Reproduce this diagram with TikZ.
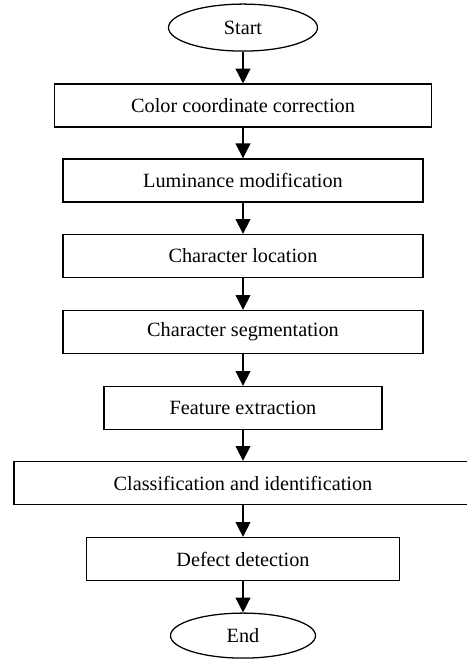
\documentclass[tikz,border=0pt]{standalone}
\usepackage{fontspec}
\setmainfont{Liberation Serif}
\usetikzlibrary{arrows.meta,shapes.geometric}

\begin{document}
\begin{tikzpicture}[
  font=\fontsize{14.4}{17}\selectfont,
  stepbox/.style={draw,line width=0.9pt,rectangle,minimum height=1.075cm,inner sep=0pt},
  term/.style={draw,line width=0.9pt,ellipse,inner sep=0pt},
  arr/.style={-{Triangle[length=3.7mm,width=3.7mm]},line width=0.9pt}
]
  \useasboundingbox (-6.075,0) rectangle (5.6,-16.475);
  \node[term,minimum width=3.725cm,minimum height=1.175cm] (start) at (0,-0.69) {Start};
  \node[stepbox,minimum width=9.425cm] (color) at (0,-2.64) {Color coordinate correction};
  \node[stepbox,minimum width=9cm] (lum) at (0,-4.51) {Luminance modification};
  \node[stepbox,minimum width=9cm] (loc) at (0,-6.40) {Character location};
  \node[stepbox,minimum width=9cm] (seg) at (0,-8.30) {Character segmentation};
  \node[stepbox,minimum width=6.95cm] (feat) at (0,-10.20) {Feature extraction};
  \node[stepbox,minimum width=11.45cm] (cls) at (0,-12.075) {Classification and identification};
  \node[stepbox,minimum width=7.825cm] (defect) at (0,-13.975) {Defect detection};
  \node[term,minimum width=3.625cm,minimum height=1.125cm] (fin) at (0,-15.89) {End};
  \draw[arr] (start) -- (color);
  \draw[arr] (color) -- (lum);
  \draw[arr] (lum) -- (loc);
  \draw[arr] (loc) -- (seg);
  \draw[arr] (seg) -- (feat);
  \draw[arr] (feat) -- (cls);
  \draw[arr] (cls) -- (defect);
  \draw[arr] (defect) -- (fin);
\end{tikzpicture}
\end{document}
